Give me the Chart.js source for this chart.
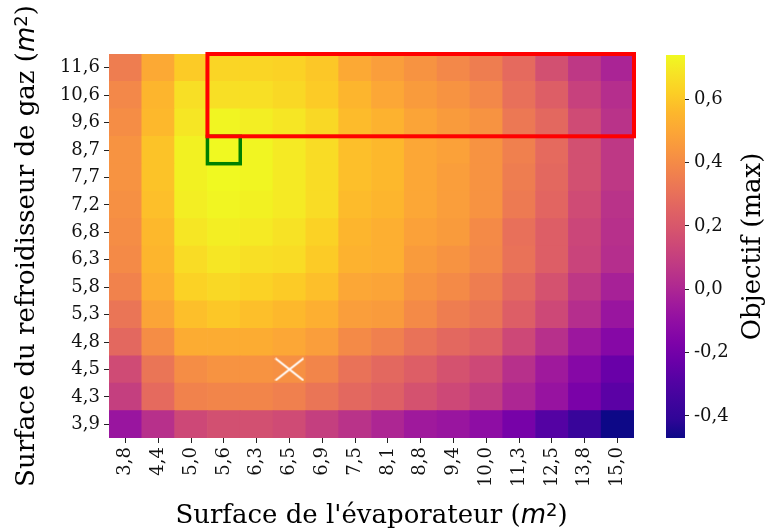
<!DOCTYPE html>
<html>
<head>
<meta charset="utf-8">
<script src="https://cdn.jsdelivr.net/npm/chart.js@4.4.0/dist/chart.umd.min.js"></script>
<style>
  html, body { margin: 0; padding: 0; background: #fff; }
  #wrap { position: relative; width: 766px; height: 531px; overflow: hidden; }
  #heat { position: absolute; left: 0; top: 0; }
  #cbar { position: absolute; left: 640px; top: 0; }
</style>
</head>
<body>
<div id="wrap">
  <canvas id="heat" width="766" height="531"></canvas>
  <canvas id="cbar" width="126" height="531"></canvas>
</div>
<script>
// axes
const xLabels = ['3,8','4,4','5,0','5,6','6,3','6,5','6,9','7,5','8,1','8,8','9,4','10,0','11,3','12,5','13,8','15,0'];
const yLabels = ['3,9','4,3','4,5','4,8','5,3','5,8','6,3','6,8','7,2','7,7','8,7','9,6','10,6','11,6']; // bas -> haut

// objectif par ligne (surface refroidisseur), une valeur par surface d'evaporateur
const row3_9  = [-0.07,0.04,0.14,0.17,0.17,0.15,0.10,0.05,0.00,-0.05,-0.07,-0.11,-0.19,-0.29,-0.38,-0.47];
const row4_3  = [0.10,0.28,0.37,0.38,0.38,0.36,0.32,0.27,0.24,0.18,0.14,0.09,0.00,-0.08,-0.18,-0.27];
const row4_5  = [0.15,0.32,0.41,0.43,0.43,0.42,0.38,0.31,0.27,0.23,0.18,0.14,0.04,-0.05,-0.14,-0.23];
const row4_8  = [0.27,0.41,0.52,0.52,0.52,0.50,0.47,0.40,0.36,0.31,0.27,0.24,0.14,0.04,-0.06,-0.14];
const row5_3  = [0.32,0.49,0.58,0.60,0.58,0.56,0.53,0.47,0.46,0.40,0.35,0.32,0.23,0.14,0.03,-0.07];
const row5_8  = [0.37,0.53,0.63,0.65,0.63,0.61,0.58,0.50,0.49,0.43,0.40,0.35,0.27,0.18,0.07,-0.02];
const row6_3  = [0.40,0.55,0.66,0.69,0.67,0.66,0.61,0.54,0.53,0.46,0.43,0.39,0.31,0.23,0.12,0.03];
const row6_8  = [0.41,0.56,0.69,0.71,0.70,0.68,0.63,0.55,0.53,0.48,0.46,0.40,0.30,0.23,0.13,0.04];
const row7_2  = [0.42,0.58,0.71,0.73,0.72,0.70,0.66,0.57,0.55,0.50,0.47,0.43,0.34,0.26,0.15,0.05];
const row7_7  = [0.43,0.59,0.72,0.74,0.73,0.70,0.66,0.58,0.56,0.50,0.47,0.43,0.35,0.27,0.17,0.07];
const row8_7  = [0.43,0.59,0.72,0.74,0.73,0.70,0.66,0.58,0.56,0.50,0.48,0.43,0.36,0.28,0.17,0.07];
const row9_6  = [0.41,0.56,0.69,0.73,0.71,0.69,0.65,0.57,0.54,0.49,0.46,0.43,0.33,0.27,0.15,0.05];
const row10_6 = [0.39,0.55,0.67,0.67,0.67,0.65,0.61,0.55,0.50,0.46,0.43,0.39,0.30,0.23,0.11,0.03];
const row11_6 = [0.35,0.51,0.61,0.64,0.64,0.63,0.60,0.51,0.47,0.43,0.39,0.35,0.28,0.17,0.07,-0.01];
const objectif = [row3_9,row4_3,row4_5,row4_8,row5_3,row5_8,row6_3,row6_8,row7_2,row7_7,row8_7,row9_6,row10_6,row11_6];

// annotations
const bestCell = ['5,6', '8,7'];          // carre vert
const zoneX = ['5,6', '15,0'];            // cadre rouge
const zoneY = ['9,6', '11,6'];
const refCell = ['6,5', '4,5'];           // croix blanche
const cbTicks = [-0.4, -0.2, 0, 0.2, 0.4, 0.6];

const allVals = objectif.flat();
const vmin = Math.min(...allVals);
const vmax = Math.max(...allVals);

const plasmaStops = ['#0d0887','#300597','#41049d','#5402a3','#6a00a8','#7e03a8','#8f0da4','#a01a9c','#b12a90','#bf3984',
  '#cc4778','#d7566c','#e16462','#ea7457','#f2844b','#f89540','#fca636','#fdb72c','#fcce25','#f7e225','#f0f921'];
function hexRgb(h) { return [1,3,5].map(i => parseInt(h.substr(i, 2), 16)); }
function plasma(t) {
  t = Math.max(0, Math.min(1, t));
  const p = t * (plasmaStops.length - 1);
  const i = Math.min(Math.floor(p), plasmaStops.length - 2);
  const f = p - i;
  const a = hexRgb(plasmaStops[i]), b = hexRgb(plasmaStops[i + 1]);
  const c = a.map((v, k) => Math.round(v + (b[k] - v) * f));
  return 'rgb(' + c.join(',') + ')';
}

const serif = '"DejaVu Serif", serif';
const tickFont = { family: serif, size: 18 };
const titleSize = 26;

function drawRich(ctx, parts, cx, cy, angle) {
  ctx.save();
  ctx.translate(cx, cy);
  ctx.rotate(angle);
  let total = 0;
  parts.forEach(p => { ctx.font = p.font; p.w = ctx.measureText(p.text).width; total += p.w; });
  let x = -total / 2;
  ctx.fillStyle = '#000';
  ctx.textAlign = 'left';
  ctx.textBaseline = 'alphabetic';
  parts.forEach(p => { ctx.font = p.font; ctx.fillText(p.text, x, p.dy || 0); x += p.w; });
  ctx.restore();
}
function m2(prefix) {
  return [
    { text: prefix + '(', font: titleSize + 'px ' + serif },
    { text: 'm', font: 'oblique ' + titleSize + 'px "DejaVu Sans"' },
    { text: '2', font: '18px "DejaVu Sans"', dy: -7 },
    { text: ')', font: titleSize + 'px ' + serif }
  ];
}

// croix blanche
const crossImg = document.createElement('canvas');
crossImg.width = 30; crossImg.height = 24;
(function () {
  const c = crossImg.getContext('2d');
  c.strokeStyle = '#fff'; c.lineWidth = 2;
  c.beginPath();
  c.moveTo(1, 1); c.lineTo(29, 23);
  c.moveTo(29, 1); c.lineTo(1, 23);
  c.stroke();
})();

const overlay = {
  id: 'overlay',
  afterDatasetsDraw(chart) {
    const ctx = chart.ctx, xs = chart.scales.x, ys = chart.scales.y;
    const half = (xs.getPixelForValue(1) - xs.getPixelForValue(0)) / 2;
    function box(x0, x1, y0, y1, color, lw) {
      const l = xs.getPixelForValue(xLabels.indexOf(x0)) - half;
      const r = xs.getPixelForValue(xLabels.indexOf(x1)) + half;
      const b = ys.getPixelForValue(yLabels.indexOf(y0));
      const t = ys.getPixelForValue(yLabels.indexOf(y1) + 1);
      ctx.save();
      ctx.strokeStyle = color; ctx.lineWidth = lw;
      ctx.strokeRect(l, t, r - l, b - t);
      ctx.restore();
    }
    box(bestCell[0], bestCell[0], bestCell[1], bestCell[1], '#008000', 3.5);
    box(zoneX[0], zoneX[1], zoneY[0], zoneY[1], '#ff0000', 4);
  },
  afterDraw(chart) {
    const a = chart.chartArea;
    drawRich(chart.ctx, m2("Surface de l'évaporateur "), (a.left + a.right) / 2, 523, 0);
    drawRich(chart.ctx, m2('Surface du refroidisseur de gaz '), 34, (a.top + a.bottom) / 2, -Math.PI / 2);
  }
};

const rowSets = objectif.map((row, k) => ({
  label: yLabels[k],
  data: row.map(() => [k, k + 1]),
  backgroundColor: row.map(v => plasma((v - vmin) / (vmax - vmin))),
  borderWidth: 0,
  grouped: false,
  barPercentage: 1,
  categoryPercentage: 1
}));

new Chart(document.getElementById('heat'), {
  type: 'bar',
  data: {
    labels: xLabels,
    datasets: [{
      type: 'line',
      data: [{ x: refCell[0], y: yLabels.indexOf(refCell[1]) + 0.5 }],
      showLine: false,
      pointStyle: crossImg,
      pointRadius: 12,
      order: -1
    }].concat(rowSets)
  },
  options: {
    responsive: false,
    animation: false,
    devicePixelRatio: 1,
    layout: { padding: { left: 0, top: 54, right: 132, bottom: 0 } },
    plugins: { legend: { display: false }, tooltip: { enabled: false } },
    scales: {
      x: {
        type: 'category',
        offset: true,
        grid: { display: true, offset: false, drawOnChartArea: false, tickLength: 5, tickColor: '#222', tickWidth: 1 },
        border: { display: false },
        ticks: { autoSkip: false, minRotation: 90, maxRotation: 90, padding: 4, color: '#111', font: tickFont },
        afterFit: s => { s.height = 93; }
      },
      y: {
        type: 'linear',
        min: 0,
        max: yLabels.length,
        bounds: 'data',
        grid: { display: true, drawOnChartArea: false, tickLength: 5, tickColor: '#222', tickWidth: 1 },
        border: { display: false },
        afterBuildTicks: s => { s.ticks = yLabels.map((_, i) => ({ value: i + 0.5 })); },
        ticks: { callback: v => yLabels[Math.floor(v)], padding: 4, color: '#111', font: tickFont },
        afterFit: s => { s.width = 109; }
      }
    }
  },
  plugins: [overlay]
});

// barre de couleur
const cbTitle = {
  id: 'cbTitle',
  afterDraw(chart) {
    const a = chart.chartArea;
    drawRich(chart.ctx, [{ text: 'Objectif (max)', font: titleSize + 'px ' + serif }], 120, (a.top + a.bottom) / 2, -Math.PI / 2);
  }
};

new Chart(document.getElementById('cbar'), {
  type: 'bar',
  data: {
    labels: [''],
    datasets: [{
      data: [[vmin, vmax]],
      backgroundColor: c => {
        const area = c.chart.chartArea;
        if (!area) return plasma(0.5);
        const g = c.chart.ctx.createLinearGradient(0, area.bottom, 0, area.top);
        plasmaStops.forEach((col, i) => g.addColorStop(i / (plasmaStops.length - 1), col));
        return g;
      },
      borderWidth: 0,
      barPercentage: 1,
      categoryPercentage: 1
    }]
  },
  options: {
    responsive: false,
    animation: false,
    devicePixelRatio: 1,
    layout: { padding: { left: 26, top: 55, right: 0, bottom: 93 } },
    plugins: { legend: { display: false }, tooltip: { enabled: false } },
    scales: {
      x: { display: false },
      y: {
        position: 'right',
        min: vmin,
        max: vmax,
        grid: { display: true, drawOnChartArea: false, tickLength: 4, tickColor: '#222', tickWidth: 1 },
        border: { display: false },
        afterBuildTicks: s => { s.ticks = cbTicks.map(v => ({ value: v })); },
        ticks: { callback: v => v.toFixed(1).replace('.', ','), padding: 5, color: '#111', font: tickFont },
        afterFit: s => { s.width = 81; }
      }
    }
  },
  plugins: [cbTitle]
});
</script>
</body>
</html>
